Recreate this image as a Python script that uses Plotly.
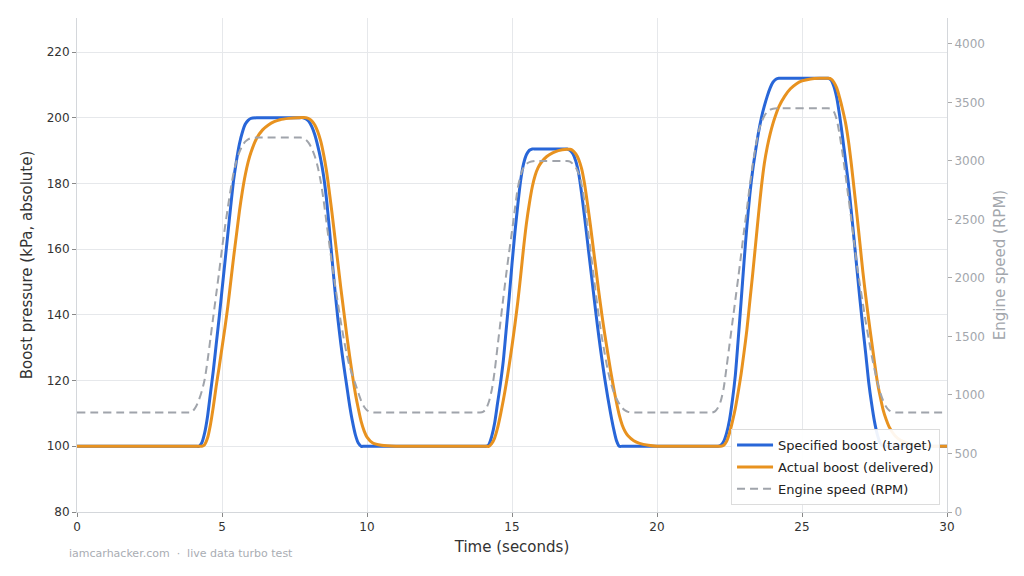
import plotly.graph_objects as go

# ---------------- data ----------------
t_target = [0, 4.1, 4.2, 4.3, 4.4, 4.5, 4.6, 4.7, 4.8, 4.9, 5.0, 5.1, 5.2, 5.3, 5.4, 5.5, 5.6, 5.7, 5.8, 5.9, 6.0, 6.2, 6.4,
            7.6, 7.8, 7.9, 8.0, 8.1, 8.2, 8.3, 8.4, 8.5, 8.6, 8.7, 8.8, 8.9, 9.0, 9.1, 9.2, 9.3, 9.4, 9.5, 9.6, 9.7, 9.8, 9.9,
            14.0, 14.1, 14.2, 14.3, 14.4, 14.5, 14.6, 14.7, 14.8, 14.9, 15.0, 15.1, 15.2, 15.3, 15.4, 15.5, 15.6, 15.7, 15.8,
            16.8, 16.9, 17.0, 17.1, 17.2, 17.3, 17.4, 17.5, 17.6, 17.7, 17.8, 17.9, 18.0, 18.1, 18.2, 18.3, 18.4, 18.5, 18.6, 18.7, 18.8,
            22.0, 22.1, 22.2, 22.3, 22.4, 22.5, 22.6, 22.7, 22.8, 22.9, 23.0, 23.1, 23.2, 23.3, 23.4, 23.5, 23.6, 23.7, 23.8, 23.9, 24.0, 24.1, 24.2, 24.3,
            25.8, 25.9, 26.0, 26.1, 26.2, 26.3, 26.4, 26.5, 26.6, 26.7, 26.8, 26.9, 27.0, 27.1, 27.2, 27.3, 27.4, 27.5, 27.6, 27.7, 27.8, 27.9, 30]
boost_target = [100, 100, 100, 101, 104, 109, 116, 123, 131, 139, 147.5, 156, 164.5, 173, 181, 187, 192, 195.5, 198, 199.2, 199.8, 200, 200,
                200, 200, 199.6, 198.8, 197.2, 194.8, 191.5, 187.5, 182.5, 175.5, 166.5, 156.5, 147, 138.5, 131, 124.5, 118.5, 112.5, 107.5, 103.5, 101, 100, 100,
                100, 100, 100.5, 103, 107, 113, 119, 126, 135.5, 145, 155.5, 165, 173.5, 181, 186, 188.8, 190.1, 190.5, 190.5,
                190.5, 190.5, 190.1, 189, 186.8, 183, 177, 170, 162.5, 155, 147.5, 140, 133, 126.5, 120.5, 115, 110, 105.5, 101.8, 100, 100,
                100, 100, 100.3, 101.5, 104, 108, 114, 121.5, 132.5, 144, 156, 167, 176.5, 184, 190, 195.5, 200, 203.5, 206.5, 209, 210.8, 211.7, 212, 212,
                212, 212, 211.5, 209.5, 206, 200.5, 194, 187, 180, 171.5, 162.5, 153.5, 144.5, 136, 128, 119.5, 113, 107.5, 103.5, 101, 100, 100, 100]

t_actual = [0, 4.2, 4.3, 4.4, 4.5, 4.6, 4.7, 4.8, 4.9, 5.0, 5.1, 5.2, 5.3, 5.4, 5.5, 5.6, 5.7, 5.8, 5.9, 6.0, 6.2, 6.4, 6.6, 6.8, 7.0, 7.3, 7.6,
            7.9, 8.0, 8.1, 8.2, 8.3, 8.4, 8.5, 8.6, 8.7, 8.8, 8.9, 9.0, 9.1, 9.2, 9.3, 9.4, 9.5, 9.6, 9.7, 9.8, 9.9, 10.0, 10.2, 10.5, 11.0, 11.2,
            14.1, 14.2, 14.3, 14.4, 14.5, 14.6, 14.7, 14.8, 14.9, 15.0, 15.1, 15.2, 15.3, 15.4, 15.5, 15.6, 15.7, 15.8, 15.9, 16.0, 16.2, 16.4, 16.6, 16.9,
            17.0, 17.1, 17.2, 17.3, 17.4, 17.5, 17.6, 17.7, 17.8, 17.9, 18.0, 18.1, 18.2, 18.3, 18.4, 18.5, 18.6, 18.7, 18.8, 18.9, 19.0, 19.2, 19.4, 19.7, 20.0, 20.2,
            22.1, 22.2, 22.3, 22.4, 22.5, 22.6, 22.7, 22.8, 22.9, 23.0, 23.1, 23.2, 23.3, 23.4, 23.5, 23.6, 23.7, 23.8, 23.9, 24.0, 24.1, 24.2, 24.4, 24.6, 24.8, 25.0, 25.3, 25.6,
            25.9, 26.0, 26.1, 26.2, 26.3, 26.4, 26.5, 26.6, 26.7, 26.8, 26.9, 27.0, 27.1, 27.2, 27.3, 27.4, 27.5, 27.6, 27.7, 27.8, 27.9, 28.0, 28.2, 28.4, 28.7, 29.0, 29.5, 30]
boost_actual = [100, 100, 100, 100.5, 102.5, 106.5, 112, 118.3, 124, 130, 136, 142.5, 150, 157.5, 164.5, 171.5, 177.5, 182.5, 186.5, 189.5, 193.8, 196.3, 197.8, 198.8, 199.4, 199.8, 200,
                200, 199.7, 199, 197.8, 195.8, 193, 189, 184, 177.5, 170.5, 163, 155.5, 148, 141, 134, 127.5, 121.5, 116, 111.5, 107.5, 104.7, 102.8, 101, 100.3, 100, 100,
                100, 100, 100.8, 102.5, 105.5, 109.5, 114, 119, 124.5, 130.5, 137, 144, 152, 160.5, 168, 174, 179, 182.5, 184.8, 186.3, 188.2, 189.3, 190, 190.4,
                190.4, 190, 189, 187.3, 184.5, 180, 174, 167.5, 160.5, 153.5, 146.5, 140, 134, 128.5, 123, 118, 113.5, 109.5, 106.5, 104.5, 103.2, 101.7, 100.9, 100.3, 100, 100,
                100, 100, 100.3, 101.5, 104, 107.5, 111.5, 116.5, 122, 128.5, 135.5, 144, 152.5, 161.5, 170.5, 179, 186, 191, 195, 198.3, 201, 203.3, 206.5, 208.8, 210.3, 211.2, 211.8, 212,
                212, 211.8, 210.8, 209, 206, 202.5, 198.5, 193, 186, 178, 170, 161.5, 153, 145.5, 138.5, 132, 125.5, 119.5, 115, 111, 108.2, 106, 103.3, 101.8, 100.8, 100.3, 100, 100]

t_rpm = [0, 3.8, 3.9, 4.0, 4.1, 4.2, 4.3, 4.4, 4.5, 4.6, 4.7, 4.8, 4.9, 5.0, 5.1, 5.2, 5.3, 5.4, 5.5, 5.6, 5.7, 5.8, 5.9, 6.0, 6.2, 6.4,
         7.5, 7.7, 7.8, 7.9, 8.0, 8.1, 8.2, 8.3, 8.4, 8.5, 8.6, 8.7, 8.8, 8.9, 9.0, 9.1, 9.2, 9.3, 9.4, 9.5, 9.6, 9.7, 9.8, 9.9, 10.0, 10.1, 10.3, 10.5,
         13.8, 13.9, 14.0, 14.1, 14.2, 14.3, 14.4, 14.5, 14.6, 14.7, 14.8, 14.9, 15.0, 15.1, 15.2, 15.3, 15.4, 15.5, 15.6, 15.8, 16.0,
         16.7, 16.9, 17.0, 17.1, 17.2, 17.3, 17.4, 17.5, 17.6, 17.7, 17.8, 17.9, 18.0, 18.1, 18.2, 18.3, 18.4, 18.5, 18.6, 18.7, 18.8, 18.9, 19.0, 19.2, 19.4,
         21.8, 21.9, 22.0, 22.1, 22.2, 22.3, 22.4, 22.5, 22.6, 22.7, 22.8, 22.9, 23.0, 23.1, 23.2, 23.3, 23.4, 23.5, 23.6, 23.7, 23.8, 23.9, 24.0, 24.2, 24.4,
         25.7, 25.9, 26.0, 26.1, 26.2, 26.3, 26.4, 26.5, 26.6, 26.7, 26.8, 26.9, 27.0, 27.1, 27.2, 27.3, 27.4, 27.5, 27.6, 27.7, 27.8, 27.9, 28.0, 28.1, 28.3, 28.5, 30]
rpm = [850, 850, 850, 865, 900, 955, 1030, 1130, 1290, 1480, 1670, 1860, 2050, 2250, 2430, 2600, 2760, 2900, 3000, 3075, 3130, 3165, 3185, 3195, 3200, 3200,
       3200, 3200, 3195, 3180, 3150, 3105, 3040, 2950, 2830, 2670, 2480, 2290, 2110, 1940, 1780, 1620, 1480, 1350, 1245, 1165, 1095, 1020, 950, 900, 870, 855, 850, 850,
       850, 850, 855, 880, 940, 1040, 1200, 1410, 1620, 1830, 2030, 2220, 2400, 2590, 2770, 2880, 2945, 2975, 2990, 3000, 3000,
       3000, 3000, 2995, 2975, 2945, 2890, 2800, 2650, 2450, 2250, 2050, 1850, 1660, 1490, 1350, 1215, 1110, 1030, 970, 925, 890, 868, 856, 850, 850,
       850, 850, 860, 890, 950, 1060, 1240, 1430, 1620, 1810, 2000, 2200, 2400, 2590, 2790, 2970, 3120, 3250, 3330, 3385, 3420, 3438, 3446, 3450, 3450,
       3450, 3450, 3445, 3420, 3350, 3220, 3060, 2880, 2690, 2500, 2300, 2100, 1940, 1780, 1620, 1480, 1340, 1220, 1110, 1020, 950, 900, 870, 855, 850, 850, 850]

x_ticks = [0, 5, 10, 15, 20, 25, 30]
boost_ticks = [80, 100, 120, 140, 160, 180, 200, 220]
rpm_ticks = [0, 500, 1000, 1500, 2000, 2500, 3000, 3500, 4000]

# ---------------- figure ----------------
FONT = "DejaVu Sans"
BLUE = "#2866d8"
ORANGE = "#e8921f"
GREY = "#a0a4ab"
GRID = "#e6e8eb"
AXLINE = "#d4d7db"

fig = go.Figure()
fig.add_trace(go.Scatter(x=t_target, y=boost_target, mode="lines", name="Specified boost (target)",
                         legendgroup="a", line=dict(color=BLUE, width=3, shape="spline", smoothing=0.7), yaxis="y"))
fig.add_trace(go.Scatter(x=t_actual, y=boost_actual, mode="lines", name="Actual boost (delivered)",
                         legendgroup="b", line=dict(color=ORANGE, width=3, shape="spline", smoothing=0.7), yaxis="y"))
fig.add_trace(go.Scatter(x=t_rpm, y=rpm, mode="lines", name="Engine speed (RPM)",
                         legendgroup="c", line=dict(color=GREY, width=2, dash="8px,5px", shape="spline", smoothing=0.7),
                         yaxis="y2"))

fig.update_layout(
    width=1024, height=576,
    margin=dict(l=77, r=77, t=18, b=64),
    paper_bgcolor="white", plot_bgcolor="white",
    font=dict(family=FONT, size=12, color="#333333"),
    showlegend=True,
    legend=dict(x=0.992, y=0.014, xanchor="right", yanchor="bottom",
                bgcolor="rgba(255,255,255,0.92)", bordercolor="#dcdcdc", borderwidth=1,
                font=dict(family=FONT, size=13, color="#222222"),
                tracegroupgap=2, itemwidth=36),
    xaxis=dict(range=[0, 30], tickvals=x_ticks, ticktext=[str(v) for v in x_ticks],
               showgrid=True, gridcolor=GRID, gridwidth=1, zeroline=False,
               showline=True, linecolor=AXLINE, linewidth=1,
               ticks="outside", ticklen=4, tickcolor="#888888",
               tickfont=dict(family=FONT, size=12, color="#333333"),
               title=dict(text="Time (seconds)", font=dict(family=FONT, size=15, color="#333333"), standoff=8)),
    yaxis=dict(range=[80, 230.35], tickvals=boost_ticks,
               showgrid=True, gridcolor=GRID, gridwidth=1, zeroline=False,
               showline=True, linecolor=AXLINE, linewidth=1,
               ticks="outside", ticklen=4, tickcolor="#888888",
               tickfont=dict(family=FONT, size=12, color="#333333"),
               title=dict(text="Boost pressure (kPa, absolute)", font=dict(family=FONT, size=15, color="#333333"), standoff=10)),
    yaxis2=dict(range=[0, 4222], tickvals=rpm_ticks, overlaying="y", side="right",
                showgrid=False, zeroline=False,
                showline=True, linecolor=AXLINE, linewidth=1,
                ticks="outside", ticklen=4, tickcolor="#aaaaaa",
                tickfont=dict(family=FONT, size=12, color="#a3a7ad"),
                title=dict(text="Engine speed (RPM)", font=dict(family=FONT, size=15, color="#a3a7ad"), standoff=10)),
    annotations=[dict(text="iamcarhacker.com  ·  live data turbo test", xref="paper", yref="paper",
                      x=-0.012, y=-0.066, xanchor="left", yanchor="top", showarrow=False,
                      font=dict(family=FONT, size=11, color="#a9adb3"))],
)

fig.write_html("out.html")
